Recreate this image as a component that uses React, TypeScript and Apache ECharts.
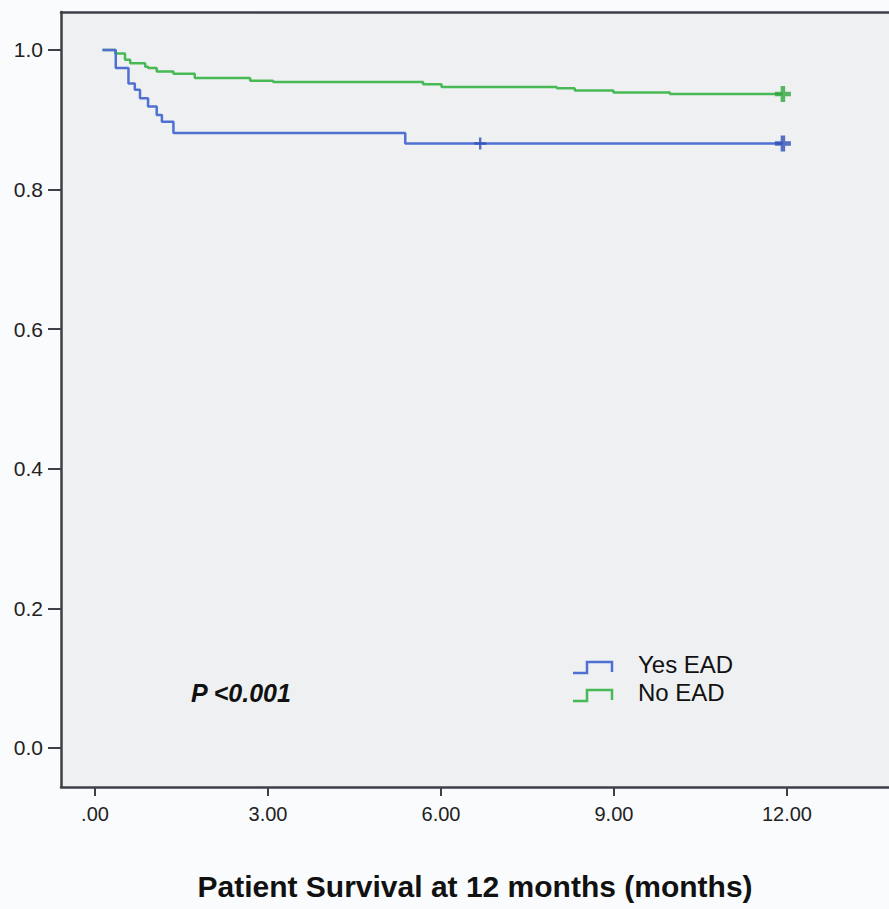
import React, { useEffect, useRef } from "react";
import * as echarts from "echarts";

// ---- Data ----
const xTickValues = [0, 3, 6, 9, 12];
const xTickLabels = [".00", "3.00", "6.00", "9.00", "12.00"];
const yTickValues = [0, 0.2, 0.4, 0.6, 0.8, 1.0];

const yesEadTime = [0.13, 0.36, 0.58, 0.69, 0.78, 0.92, 1.07, 1.16, 1.36, 5.38, 11.93];
const yesEadSurv = [1.0, 0.974, 0.952, 0.943, 0.931, 0.919, 0.907, 0.897, 0.881, 0.866, 0.866];
const yesCensorTime = [6.68, 11.93];
const yesCensorSurv = [0.866, 0.866];

const noEadTime = [0.13, 0.35, 0.52, 0.61, 0.87, 0.92, 1.07, 1.36, 1.73, 2.69, 3.09, 5.69, 6.01, 8.01, 8.32, 8.99, 9.97, 11.93];
const noEadSurv = [1.0, 0.995, 0.986, 0.981, 0.976, 0.974, 0.969, 0.966, 0.96, 0.956, 0.954, 0.951, 0.947, 0.945, 0.942, 0.939, 0.937, 0.937];
const noCensorTime = [11.93];
const noCensorSurv = [0.937];

const seriesNames = ["Yes EAD", "No EAD"];
const pValueText = "P <0.001";
const xAxisTitle = "Patient Survival at 12 months (months)";

const BLUE = "#4f70d2";
const BLUE_DARK = "#2f4fb5";
const GREEN = "#47b955";
const GREEN_DARK = "#2ea63d";
const AXIS = "#3b4146";
const PLUS_THIN = "path://M4,0H6V4H10V6H6V10H4V6H0V4H4Z";
const PLUS_BOLD = "path://M3.6,0H6.4V3.6H10V6.4H6.4V10H3.6V6.4H0V3.6H3.6Z";

export default function App() {
  const ref = useRef<HTMLDivElement>(null);
  useEffect(() => {
    if (!ref.current) return;
    const chart = echarts.init(ref.current, undefined, { renderer: "svg" });
    const xMin = -0.59;
    const xMax = 13.77;
    const option: any = {
      animation: false,
      backgroundColor: "#fafbfc",
      grid: {
        left: 61,
        top: 12,
        right: 0,
        bottom: 909 - 787,
        show: true,
        backgroundColor: "#eef0f1",
        borderWidth: 0,
      },
      xAxis: [
        {
          type: "value",
          min: xMin,
          max: xMax,
          position: "bottom",
          splitLine: { show: false },
          axisLine: { show: true, onZero: false, lineStyle: { color: AXIS, width: 2.5 } },
          axisTick: { show: true, length: 9, customValues: xTickValues, lineStyle: { color: AXIS, width: 2 } },
          axisLabel: {
            customValues: xTickValues,
            formatter: (v: number) => {
              const i = xTickValues.findIndex((t) => Math.abs(t - v) < 1e-6);
              return i >= 0 ? xTickLabels[i] : "";
            },
            margin: 17,
            color: "#222",
            fontSize: 20,
            fontFamily: "'Liberation Sans Narrow', 'Liberation Sans', Arial, sans-serif",
          },
          name: xAxisTitle,
          nameLocation: "middle",
          nameGap: 84,
          nameTextStyle: {
            color: "#111",
            fontSize: 30,
            fontWeight: "bold",
            fontFamily: "'Liberation Sans Narrow', 'Liberation Sans', Arial, sans-serif",
          },
        },
        {
          type: "value",
          min: xMin,
          max: xMax,
          position: "top",
          splitLine: { show: false },
          axisLine: { show: true, onZero: false, lineStyle: { color: AXIS, width: 2.5 } },
          axisTick: { show: false },
          axisLabel: { show: false },
        },
      ],
      yAxis: {
        type: "value",
        min: -0.0559,
        max: 1.0544,
        splitLine: { show: false },
        axisLine: { show: true, onZero: false, lineStyle: { color: AXIS, width: 2.5 } },
        axisTick: { show: true, length: 13, customValues: yTickValues, lineStyle: { color: AXIS, width: 2 } },
        axisLabel: {
          customValues: yTickValues,
          formatter: (v: number) => v.toFixed(1),
          margin: 18,
          color: "#222",
          fontSize: 21,
          fontFamily: "'Liberation Sans', Arial, sans-serif",
        },
      },
      series: [
        {
          name: seriesNames[0],
          type: "line",
          step: "end",
          showSymbol: false,
          data: yesEadTime.map((t, i) => [t, yesEadSurv[i]]),
          lineStyle: { color: BLUE, width: 2.5 },
          itemStyle: { color: BLUE },
          z: 3,
        },
        {
          name: seriesNames[1],
          type: "line",
          step: "end",
          showSymbol: false,
          data: noEadTime.map((t, i) => [t, noEadSurv[i]]),
          lineStyle: { color: GREEN, width: 2.5 },
          itemStyle: { color: GREEN },
          z: 2,
        },
        {
          name: seriesNames[0] + " censored",
          type: "scatter",
          data: yesCensorTime.map((t, i) => ({
            value: [t, yesCensorSurv[i]],
            symbol: i === yesCensorTime.length - 1 ? PLUS_BOLD : PLUS_THIN,
            symbolSize: i === yesCensorTime.length - 1 ? 16 : 12,
          })),
          itemStyle: { color: BLUE_DARK },
          z: 4,
        },
        {
          name: seriesNames[1] + " censored",
          type: "scatter",
          data: noCensorTime.map((t, i) => ({
            value: [t, noCensorSurv[i]],
            symbol: PLUS_BOLD,
            symbolSize: 16,
          })),
          itemStyle: { color: GREEN_DARK },
          z: 4,
        },
      ],
      graphic: [
        {
          type: "polyline",
          shape: { points: [[573, 673], [587, 673], [587, 662], [612, 662], [612, 672]] },
          style: { stroke: BLUE, lineWidth: 2.5, fill: "none" },
        },
        {
          type: "polyline",
          shape: { points: [[573, 701], [587, 701], [587, 690], [612, 690], [612, 700]] },
          style: { stroke: GREEN, lineWidth: 2.5, fill: "none" },
        },
        {
          type: "text",
          x: 638,
          y: 664,
          style: {
            text: seriesNames[0],
            fill: "#111",
            fontSize: 24,
            fontFamily: "'Liberation Sans', Arial, sans-serif",
            textVerticalAlign: "middle",
            verticalAlign: "middle",
          },
        },
        {
          type: "text",
          x: 638,
          y: 692,
          style: {
            text: seriesNames[1],
            fill: "#111",
            fontSize: 24,
            fontFamily: "'Liberation Sans', Arial, sans-serif",
            textVerticalAlign: "middle",
            verticalAlign: "middle",
          },
        },
        {
          type: "text",
          x: 191,
          y: 693,
          style: {
            text: pValueText,
            fill: "#111",
            fontSize: 25,
            fontWeight: "bold",
            fontStyle: "italic",
            fontFamily: "'Liberation Sans', Arial, sans-serif",
            textVerticalAlign: "middle",
            verticalAlign: "middle",
          },
        },
      ],
    };
    chart.setOption(option);
    return () => chart.dispose();
  }, []);
  return (
    <div
      ref={ref}
      style={{ position: "absolute", left: 0, top: 0, width: 889, height: 909 }}
    />
  );
}
